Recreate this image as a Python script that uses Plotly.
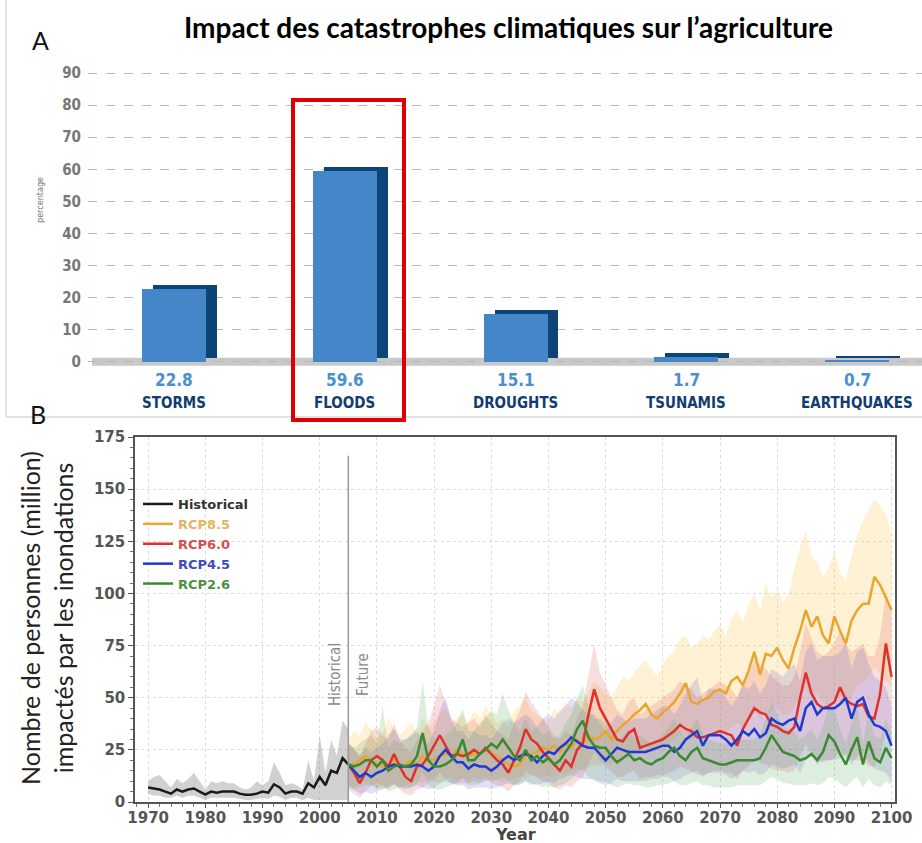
import plotly.graph_objects as go

# ---- panel A data ----
categories = ["STORMS", "FLOODS", "DROUGHTS", "TSUNAMIS", "EARTHQUAKES"]
percentages = [22.8, 59.6, 15.1, 1.7, 0.7]

# ---- panel B data ----
years_hist = list(range(1970, 2006))
hist_mean = [7, 6.5, 6, 5, 4, 6, 5, 6, 6.5, 5,
             3.5, 5, 4.5, 5, 5, 5, 4, 3.5, 3.5, 4,
             5, 4.5, 8.5, 7, 4, 5, 5, 4, 9, 7,
             12, 8, 15, 14, 21, 18]
hist_hi = [10, 12, 13, 10, 7, 11, 9, 11, 14, 10,
           6, 10, 9, 10, 9, 9, 7, 6, 7, 10,
           8, 10, 19, 14, 8, 9, 8, 6, 20, 10,
           32, 14, 30, 22, 39, 35]
hist_lo = [4, 3, 3, 2, 2, 3, 2, 3, 3, 2,
           1, 2, 2, 2, 2, 2, 1.5, 1, 1, 1.5,
           2, 1.5, 3, 2.5, 1, 2, 2, 1, 2, 1,
           1, 1, 1, 1, 1, 1]

years_fut = list(range(2005, 2101))

rcp85 = [18, 18, 20, 22, 20, 18, 17, 18, 20, 17,
         18, 20, 18, 22, 20, 20, 22, 23, 22, 25,
         23, 22, 23, 23, 25, 23, 22, 20, 18, 17,
         18, 22, 23, 24, 26, 25, 27, 24, 28, 26,
         30, 28, 32, 30, 31, 34, 30, 34, 37, 39,
         42, 44, 47, 42, 40, 43, 45, 48, 52, 57,
         48, 47, 49, 50, 53, 54, 52, 58, 60, 56,
         63, 72, 61, 71, 70, 74, 68, 64, 74, 82,
         92, 84, 89, 80, 76, 89, 82, 76, 87, 92,
         95, 95, 108, 104, 98, 92]
rcp85_hi = [30, 34, 32, 38, 35, 30, 33, 40, 35, 32,
            35, 38, 33, 40, 36, 38, 42, 45, 38, 40,
            42, 38, 44, 40, 46, 42, 38, 40, 36, 44,
            46, 50, 44, 42, 40, 38, 45, 42, 48, 45,
            50, 48, 52, 58, 55, 52, 50, 55, 60, 58,
            62, 65, 68, 64, 60, 66, 70, 72, 78, 80,
            74, 76, 80, 78, 82, 85, 80, 88, 92, 86,
            95, 100, 92, 105, 98, 102, 96, 100, 112, 122,
            130, 118, 115, 108, 112, 120, 110, 106, 118, 128,
            135, 140, 145, 142, 138, 128]
rcp85_lo = [8, 7, 9, 10, 8, 7, 6, 8, 9, 7,
            8, 9, 10, 9, 11, 10, 9, 11, 12, 10,
            11, 10, 12, 11, 12, 10, 11, 9, 10, 11,
            12, 11, 13, 12, 12, 13, 12, 14, 13, 15,
            16, 15, 17, 18, 17, 19, 18, 20, 22, 21,
            24, 25, 26, 24, 25, 27, 28, 30, 32, 30,
            30, 32, 31, 33, 34, 35, 33, 36, 38, 36,
            40, 44, 40, 42, 44, 46, 42, 42, 46, 50,
            55, 50, 52, 48, 46, 52, 48, 46, 50, 56,
            58, 60, 65, 62, 58, 55]

rcp60 = [18, 14, 9, 14, 20, 22, 20, 17, 23, 17,
         12, 10, 17, 18, 22, 27, 32, 27, 22, 23,
         22, 23, 25, 23, 26, 23, 20, 18, 14, 20,
         26, 35, 30, 28, 24, 21, 18, 15, 20, 17,
         25, 28, 42, 54, 45, 40, 35, 30, 29, 33,
         35, 26, 27, 28, 29, 30, 32, 34, 37, 35,
         34, 31, 31, 32, 33, 34, 33, 32, 27, 35,
         40, 45, 43, 42, 37, 36, 34, 33, 36, 50,
         62, 52, 47, 45, 46, 48, 55, 49, 47, 46,
         47, 41, 40, 52, 76, 60]
rcp60_hi = [28, 26, 22, 28, 34, 36, 32, 30, 38, 30,
            26, 24, 30, 34, 38, 46, 56, 48, 40, 38,
            36, 38, 40, 36, 42, 38, 34, 32, 30, 38,
            44, 53, 48, 44, 40, 36, 32, 30, 34, 32,
            40, 46, 62, 76, 62, 56, 50, 44, 42, 48,
            50, 42, 44, 46, 48, 50, 52, 54, 58, 56,
            54, 50, 52, 54, 56, 58, 56, 54, 50, 58,
            62, 68, 66, 64, 60, 58, 56, 56, 60, 72,
            86, 78, 72, 70, 72, 76, 82, 76, 72, 74,
            76, 70, 70, 80, 100, 90]
rcp60_lo = [6, 4, 2, 5, 8, 9, 8, 6, 9, 6,
            4, 3, 6, 7, 9, 11, 14, 11, 9, 9,
            9, 9, 10, 9, 11, 9, 8, 7, 5, 8,
            10, 15, 13, 12, 10, 9, 7, 6, 8, 7,
            10, 12, 18, 24, 20, 17, 15, 12, 12, 14,
            15, 11, 12, 12, 13, 13, 14, 15, 17, 16,
            15, 13, 13, 14, 15, 15, 14, 14, 11, 15,
            17, 20, 19, 18, 16, 15, 15, 14, 15, 22,
            28, 23, 20, 19, 20, 21, 25, 21, 20, 20,
            20, 17, 17, 22, 35, 28]

rcp45 = [18, 15, 12, 14, 12, 14, 15, 17, 18, 17,
         17, 17, 18, 17, 15, 17, 22, 25, 22, 19,
         19, 16, 18, 17, 17, 15, 17, 20, 22, 20,
         22, 23, 22, 19, 22, 24, 23, 26, 28, 31,
         29, 27, 26, 26, 23, 20, 23, 26, 25, 24,
         24, 24, 24, 25, 26, 27, 27, 24, 26, 30,
         32, 34, 27, 32, 32, 32, 30, 27, 30, 34,
         32, 35, 31, 33, 40, 38, 37, 39, 40, 34,
         45, 48, 42, 45, 45, 45, 47, 50, 40, 48,
         50, 42, 37, 36, 34, 27]
rcp45_hi = [28, 25, 22, 26, 24, 26, 28, 32, 35, 30,
            30, 32, 34, 30, 28, 34, 44, 50, 40, 34,
            34, 30, 34, 32, 32, 30, 34, 38, 40, 38,
            40, 42, 40, 36, 40, 42, 40, 44, 46, 50,
            48, 44, 42, 42, 38, 34, 38, 42, 40, 38,
            40, 40, 40, 42, 44, 46, 46, 42, 46, 52,
            56, 60, 48, 54, 54, 54, 50, 46, 50, 56,
            54, 58, 52, 56, 64, 62, 60, 64, 66, 58,
            72, 76, 68, 70, 70, 70, 72, 76, 64, 72,
            74, 66, 60, 58, 55, 46]
rcp45_lo = [8, 6, 4, 5, 4, 5, 6, 7, 8, 7,
            7, 7, 8, 7, 6, 7, 9, 10, 9, 8,
            8, 6, 7, 7, 7, 6, 7, 8, 9, 8,
            9, 10, 9, 8, 9, 10, 9, 11, 12, 13,
            12, 11, 11, 11, 9, 8, 9, 11, 10, 10,
            10, 10, 10, 11, 11, 12, 12, 10, 11, 13,
            14, 15, 12, 14, 14, 14, 13, 11, 13, 15,
            14, 15, 13, 14, 18, 17, 16, 17, 18, 14,
            20, 22, 18, 20, 20, 20, 21, 23, 18, 22,
            23, 19, 16, 15, 14, 10]

rcp26 = [18, 17, 18, 20, 20, 17, 20, 15, 17, 18,
         17, 18, 22, 33, 20, 17, 17, 18, 20, 23,
         30, 20, 20, 23, 25, 28, 26, 30, 26, 22,
         20, 25, 20, 22, 19, 21, 18, 20, 24, 28,
         35, 39, 31, 27, 26, 26, 22, 19, 21, 23,
         20, 21, 19, 18, 20, 21, 24, 26, 22, 20,
         24, 26, 21, 20, 19, 18, 18, 19, 20, 20,
         20, 20, 21, 26, 32, 28, 24, 23, 22, 20,
         21, 23, 20, 24, 32, 29, 23, 18, 25, 31,
         18, 29, 21, 19, 26, 21]
rcp26_hi = [28, 26, 28, 30, 32, 28, 46, 26, 30, 28,
            30, 32, 36, 58, 36, 30, 30, 32, 34, 38,
            45, 34, 34, 38, 40, 44, 42, 52, 44, 38,
            34, 40, 34, 36, 32, 34, 30, 32, 38, 42,
            50, 56, 46, 40, 40, 38, 34, 30, 32, 35,
            30, 32, 30, 28, 30, 32, 36, 40, 34, 30,
            36, 40, 32, 30, 29, 28, 28, 29, 30, 30,
            30, 30, 32, 40, 48, 42, 36, 35, 34, 30,
            32, 35, 30, 36, 46, 44, 35, 28, 38, 46,
            28, 44, 32, 30, 40, 32]
rcp26_lo = [7, 6, 7, 8, 8, 6, 8, 5, 6, 7,
            6, 7, 9, 14, 8, 6, 6, 7, 8, 9,
            12, 8, 8, 9, 10, 11, 10, 12, 10, 8,
            8, 10, 8, 9, 7, 8, 7, 8, 9, 11,
            14, 16, 12, 10, 10, 10, 8, 7, 8, 9,
            8, 8, 7, 7, 8, 8, 9, 10, 8, 8,
            9, 10, 8, 8, 7, 7, 7, 7, 8, 8,
            8, 8, 8, 10, 12, 11, 9, 9, 8, 8,
            8, 9, 8, 9, 12, 11, 9, 7, 10, 12,
            7, 11, 8, 7, 10, 8]

NARROW = "Liberation Sans Narrow, DejaVu Sans Condensed, Roboto Condensed, Roboto, sans-serif"
HUMAN = "Lato, Open Sans, sans-serif"


def note(fig, x, y, text, font, xref="paper", yref="paper", **kw):
    fig.add_annotation(x=x, y=y, xref=xref, yref=yref, text=text, showarrow=False,
                       xanchor="center", yanchor="middle", font=font, **kw)


fig = go.Figure()

# ---- panel A: pseudo 3D bars ----
cat_x = list(range(len(categories)))
fig.add_trace(go.Bar(
    x=cat_x, y=percentages, base=1.25, width=0.374, offset=-0.123,
    marker=dict(color="#0c4478", line=dict(width=0)),
    xaxis="x", yaxis="y", showlegend=False, hoverinfo="skip"))
fig.add_trace(go.Bar(
    x=cat_x, y=percentages, width=0.374, offset=-0.187,
    marker=dict(color="#4586c9", line=dict(width=0)),
    xaxis="x", yaxis="y", showlegend=False))

for xi, (cat, val) in enumerate(zip(categories, percentages)):
    note(fig, xi, 1 - 380 / 843, f"<b>{val}</b>",
         dict(family=NARROW, size=17, color="#4a8fd6"), xref="x")
    note(fig, xi, 1 - 403 / 843, f"<b>{cat}</b>",
         dict(family=NARROW, size=15, color="#123d6e"), xref="x")

# ---- panel B: bands then lines ----
band_sets = [
    (years_hist, hist_lo, hist_hi, "rgba(140,140,140,0.40)"),
    (years_fut, rcp85_lo, rcp85_hi, "rgba(255,210,110,0.30)"),
    (years_fut, rcp60_lo, rcp60_hi, "rgba(220,90,90,0.20)"),
    (years_fut, rcp45_lo, rcp45_hi, "rgba(100,100,220,0.20)"),
    (years_fut, rcp26_lo, rcp26_hi, "rgba(90,170,90,0.20)"),
]
for xs, lo, hi, col in band_sets:
    fig.add_trace(go.Scatter(x=xs, y=lo, mode="lines", line=dict(width=0),
                             xaxis="x2", yaxis="y2", showlegend=False, hoverinfo="skip"))
    fig.add_trace(go.Scatter(x=xs, y=hi, mode="lines", line=dict(width=0),
                             fill="tonexty", fillcolor=col,
                             xaxis="x2", yaxis="y2", showlegend=False, hoverinfo="skip"))

line_sets = [
    (years_hist, hist_mean, "#1a1a1a", "#333333", "Historical"),
    (years_fut, rcp85, "#e8a530", "#e6b267", "RCP8.5"),
    (years_fut, rcp60, "#e0302a", "#d25050", "RCP6.0"),
    (years_fut, rcp45, "#1f3ad0", "#3c4cc0", "RCP4.5"),
    (years_fut, rcp26, "#3a8a2e", "#4f8f40", "RCP2.6"),
]
for xs, ys, col, tcol, name in line_sets:
    fig.add_trace(go.Scatter(x=xs, y=ys, mode="lines", line=dict(color=col, width=2.5),
                             name=f'<span style="color:{tcol}">{name}</span>',
                             xaxis="x2", yaxis="y2"))

fig.update_layout(
    width=922, height=843,
    margin=dict(l=0, r=0, t=0, b=0, autoexpand=False),
    paper_bgcolor="white", plot_bgcolor="white",
    barmode="overlay", bargap=0,
    showlegend=True,
    legend=dict(x=138 / 922, y=1 - 489 / 843, xanchor="left", yanchor="top",
                traceorder="normal",
                bgcolor="rgba(0,0,0,0)", itemwidth=30, tracegroupgap=0,
                font=dict(family="DejaVu Sans", size=13, weight="bold")),
    xaxis=dict(domain=[88 / 922, 1], range=[-0.504, 4.38], showticklabels=False,
               showgrid=False, zeroline=False, showline=False, fixedrange=True,
               automargin=False),
    yaxis=dict(domain=[1 - 371.6 / 843, 1 - 66.6 / 843], range=[-3, 92],
               tickvals=list(range(0, 100, 10)), showgrid=True, gridcolor="#b8b8b8",
               griddash="dash", gridwidth=1, zeroline=False, showline=False,
               ticks="", tickfont=dict(family=NARROW, size=15, color="#777", weight="bold"),
               ticklabelstandoff=6, automargin=False),
    xaxis2=dict(domain=[135 / 922, 895 / 922], range=[1967.7, 2100.6],
                tickvals=list(range(1970, 2101, 10)), showgrid=True, gridcolor="#dcdcdc",
                griddash="dot", zeroline=False, showline=True, linecolor="#555", linewidth=1.5,
                mirror=True, ticks="outside", ticklen=4, tickcolor="#555",
                minor=dict(dtick=2, ticks="outside", ticklen=3, tickcolor="#777", showgrid=False),
                tickfont=dict(family="DejaVu Sans", size=15, color="#555", weight="bold"),
                ticklabelstandoff=-3, anchor="y2", automargin=False),
    yaxis2=dict(domain=[1 - 802 / 843, 1 - 437 / 843], range=[0, 175],
                tickvals=list(range(0, 176, 25)), showgrid=True, gridcolor="#dcdcdc",
                griddash="dot", zeroline=False, showline=True, linecolor="#555", linewidth=1.5,
                mirror=True, ticks="outside", ticklen=5, tickcolor="#555",
                minor=dict(dtick=5, ticks="outside", ticklen=3, tickcolor="#777", showgrid=False),
                tickfont=dict(family="DejaVu Sans", size=15, color="#555", weight="bold"),
                anchor="x2", automargin=False),
)

# floor slab under the bars
fig.add_shape(type="rect", xref="x", yref="y", x0=-0.48, x1=4.38, y0=-1.2, y1=1.3,
              fillcolor="#c8c8c8", line=dict(width=0), layer="below")
# frame of panel A
fig.add_shape(type="line", xref="paper", yref="paper", x0=6 / 922, x1=6 / 922,
              y0=1, y1=1 - 417 / 843, line=dict(color="#e2e2e2", width=2))
fig.add_shape(type="line", xref="paper", yref="paper", x0=6 / 922, x1=1,
              y0=1 - 417 / 843, y1=1 - 417 / 843, line=dict(color="#e2e2e2", width=2))
# highlight of floods
fig.add_shape(type="rect", xref="paper", yref="paper", x0=293 / 922, x1=404 / 922,
              y0=1 - 420 / 843, y1=1 - 100 / 843, line=dict(color="#e00000", width=4))
# historical / future split
fig.add_shape(type="line", xref="x2", yref="y2", x0=2005, x1=2005, y0=0, y1=166,
              line=dict(color="#999", width=1.5))

note(fig, 2005, 61, "Historical", dict(family=NARROW, size=15, color="#8a8a8a"),
     xref="x2", yref="y2", textangle=-90, xshift=-14)
note(fig, 2005, 61, "Future", dict(family=NARROW, size=15, color="#8a8a8a"),
     xref="x2", yref="y2", textangle=-90, xshift=14)

# titles and panel letters
note(fig, 508 / 922, 1 - 27 / 843,
     "<b>Impact des catastrophes climatiques sur l\u2019agriculture</b>",
     dict(family=HUMAN, size=28, color="black"))
note(fig, 40 / 922, 1 - 40 / 843, "A", dict(family=HUMAN, size=25, color="#111"))
note(fig, 38 / 922, 1 - 414 / 843, "B", dict(family=HUMAN, size=25, color="#111"))
note(fig, 40 / 922, 1 - 200 / 843, "percentage", dict(family=NARROW, size=9, color="#777"),
     textangle=-90)
note(fig, 46 / 922, 1 - 618 / 843,
     "Nombre de personnes (million)<br>impactés par les inondations",
     dict(family=HUMAN, size=25, color="#222"), textangle=-90)
note(fig, 515 / 922, 1 - 834 / 843, "Year",
     dict(family="DejaVu Sans", size=16, color="#444", weight="bold"))

fig.write_html("out.html", config={"displayModeBar": False},
               post_script="document.body.style.margin='0';")
